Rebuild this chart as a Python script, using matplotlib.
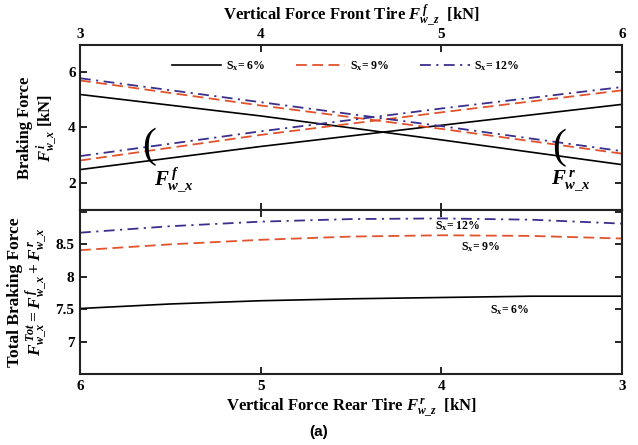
import matplotlib
matplotlib.use("Agg")
import matplotlib.pyplot as plt

plt.rcParams['font.family'] = 'Liberation Serif'
plt.rcParams['font.weight'] = 'bold'
plt.rcParams['axes.labelweight'] = 'bold'
plt.rcParams['mathtext.fontset'] = 'custom'
plt.rcParams['mathtext.rm'] = 'Liberation Serif:bold'
plt.rcParams['mathtext.it'] = 'Liberation Serif:italic:bold'
plt.rcParams['mathtext.bf'] = 'Liberation Serif:bold'

# front tire vertical force [kN]
fz_front = [3, 4, 5, 6]
# braking force of front (rising) and rear (falling) tire for each slip
fx_front_6 = [2.47, 3.31, 4.08, 4.84]
fx_rear_6 = [5.20, 4.42, 3.55, 2.65]
fx_front_9 = [2.80, 3.73, 4.55, 5.35]
fx_rear_9 = [5.71, 4.80, 3.95, 3.05]
fx_front_12 = [2.96, 3.86, 4.69, 5.47]
fx_rear_12 = [5.79, 4.92, 4.05, 3.14]

# rear tire vertical force [kN] and total braking force
fz_rear = [6, 5.5, 5, 4.5, 4, 3.5, 3]
ftot_6 = [7.51, 7.58, 7.63, 7.66, 7.68, 7.70, 7.70]
ftot_9 = [8.41, 8.50, 8.57, 8.62, 8.64, 8.63, 8.59]
ftot_12 = [8.68, 8.78, 8.85, 8.89, 8.90, 8.88, 8.82]

labels = ['S$_{\\mathrm{x}}$= 6%', 'S$_{\\mathrm{x}}$= 9%', 'S$_{\\mathrm{x}}$= 12%']
red = '#E0532C'
blue = '#3B2F8E'
dash = (0, (6, 3))
dashdot = (0, (6, 3, 1.2, 3))

fig = plt.figure(figsize=(6.38, 4.45), dpi=100)
ax1 = fig.add_axes([0.1254, 0.528, 0.8495, 0.371])
ax2 = fig.add_axes([0.1254, 0.1596, 0.8495, 0.3685])

# front / rear braking forces
ax1.plot(fz_front, fx_front_6, color='black', lw=1.2, label=labels[0])
ax1.plot(fz_front, fx_rear_6, color='black', lw=1.2)
ax1.plot(fz_front, fx_front_9, color=red, lw=1.3, ls=dash, label=labels[1])
ax1.plot(fz_front, fx_rear_9, color=red, lw=1.3, ls=dash)
ax1.plot(fz_front, fx_front_12, color=blue, lw=1.3, ls=dashdot, label=labels[2])
ax1.plot(fz_front, fx_rear_12, color=blue, lw=1.3, ls=dashdot)
ax1.set_xlim(3, 6)
ax1.set_ylim(1, 7)
ax1.set_xticks([3, 4, 5, 6])
ax1.set_yticks([2, 4, 6])
ax1.xaxis.set_label_position('top')
ax1.tick_params(direction='in', length=5, width=1.2, top=True, bottom=True,
                left=True, right=True, labeltop=True, labelbottom=False,
                labelsize=11, pad=3)
ax1.set_xlabel('Vertical Force Front Tire $F^{\\,f}_{w\\_z}$  [kN]',
               fontsize=12, labelpad=5)
ax1.set_ylabel('Braking Force\n$F^{\\,i}_{w\\_x}$ [kN]', fontsize=12,
               labelpad=6, linespacing=1.1)
ax1.legend(loc='center', bbox_to_anchor=(0.49, 0.873), ncol=3, frameon=False,
           fontsize=8.5, handlelength=4.2, handletextpad=0.4, columnspacing=2.6)

# brackets grouping the front and rear curves
ax1.text(3.38, 3.3, '(', fontsize=30, ha='center', va='center',
         fontweight='light')
ax1.text(5.65, 3.25, '(', fontsize=30, ha='center', va='center',
         fontweight='light')
ax1.text(3.52, 2.1, '$F^{\\,f}_{w\\_x}$', fontsize=15, ha='center', va='center')
ax1.text(5.72, 2.1, '$F^{\\,r}_{w\\_x}$', fontsize=15, ha='center', va='center')

# total braking force
ax2.plot(fz_rear, ftot_6, color='black', lw=1.2)
ax2.plot(fz_rear, ftot_9, color=red, lw=1.3, ls=dash)
ax2.plot(fz_rear, ftot_12, color=blue, lw=1.3, ls=dashdot)
ax2.set_xlim(6, 3)
ax2.set_ylim(6.5, 9.03)
ax2.set_xticks([6, 5, 4, 3])
ax2.set_yticks([7, 7.5, 8, 8.5, 9])
ax2.set_yticklabels(['7', '7.5', '8', '8.5', ''])
ax2.tick_params(direction='in', length=5, width=1.2, top=True, bottom=True,
                left=True, right=True, labelsize=11, pad=4)
ax2.set_xlabel('Vertical Force Rear Tire $F^{\\,r}_{w\\_z}$  [kN]',
               fontsize=12, labelpad=3)
ax2.set_ylabel('Total Braking Force\n'
               '$F^{\\,Tot}_{w\\_x} = F^{\\,f}_{w\\_x} + F^{\\,r}_{w\\_x}$',
               fontsize=12.5, labelpad=4, linespacing=1.0)
ax2.text(3.91, 8.78, labels[2], fontsize=8.5, ha='center', va='center')
ax2.text(3.78, 8.45, labels[1], fontsize=8.5, ha='center', va='center')
ax2.text(3.62, 7.48, labels[0], fontsize=8.5, ha='center', va='center')

for ax in (ax1, ax2):
    for s in ax.spines.values():
        s.set_linewidth(1.5)
        s.set_color('#222222')

fig.text(0.5, 0.03, '(a)', fontsize=11, fontweight='bold',
         family='Liberation Sans', ha='center', va='center')

fig.savefig('out.png', dpi=100)
